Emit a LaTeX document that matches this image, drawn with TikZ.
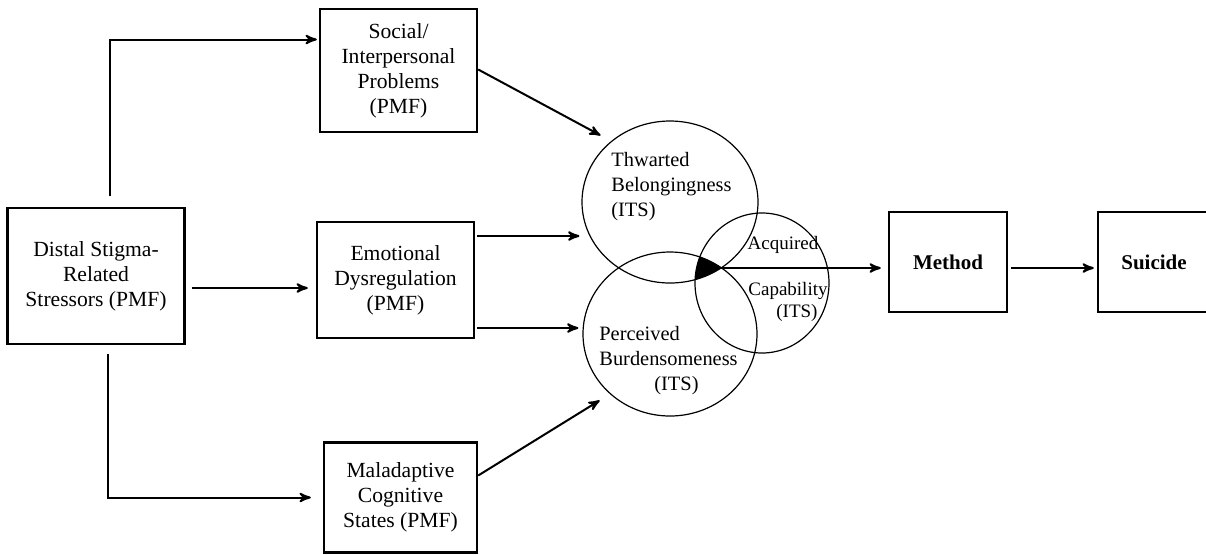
\documentclass[tikz,border=0pt]{standalone}
\usepackage{fontspec}
\setmainfont{Liberation Serif}
\usepackage{tikz}
\usetikzlibrary{arrows,positioning,shapes.geometric}
\tikzset{
  %Define standard arrow tip
  >=stealth',
  %Define style for boxes
  boks/.style={
    rectangle,
    draw=black, line width=1.2pt,
    align=center,
    inner sep=0pt,
    font=\fontsize{10.8}{12.5}\selectfont},
  %Define style for the two end boxes
  sluttboks/.style={
    boks,
    minimum height=50pt,
    font=\fontsize{10.5}{12}\selectfont\bfseries},
  %Define style for the circles
  ring/.style={
    ellipse,
    draw=black, line width=0.6pt,
    inner sep=0pt},
  ringtekst/.style={
    align=left,
    inner sep=0pt,
    font=\fontsize{10.2}{12.5}\selectfont},
  % Define arrow style
  pil/.style={
    ->,
    line width=1pt,
    shorten >=1pt}
}

\begin{document}
\begin{tikzpicture}[x=0.5pt,y=-0.5pt]
      \useasboundingbox (0,0) rectangle (1206,554);
      % boxes on the left
      \node[boks, minimum width=88.5pt, minimum height=68pt] (distal) at (96,276) {Distal Stigma-\\Related\\Stressors (PMF)};
      \node[boks, minimum width=78.5pt, minimum height=61.5pt] (social) at (398.5,70.5) {Social/\\Interpersonal\\Problems\\(PMF)};
      \node[boks, minimum width=78.5pt, minimum height=58pt] (emo) at (395.5,280) {Emotional\\Dysregulation\\(PMF)};
      \node[boks, minimum width=76.5pt, minimum height=55pt] (malad) at (400.5,497.5) {Maladaptive\\Cognitive\\States (PMF)};
      % the three circles
      \node[ring, minimum width=88pt, minimum height=81pt] (tb) at (670,202) {};
      \node[ring, minimum width=87pt, minimum height=82pt] (pb) at (670,334) {};
      \node[ring, minimum width=67pt, minimum height=70pt] (ac) at (762,283) {};
      \begin{scope}
        \clip (tb.center) ellipse [x radius=44pt, y radius=40.5pt];
        \clip (pb.center) ellipse [x radius=43.5pt, y radius=41pt];
        \fill (ac.center) ellipse [x radius=33.5pt, y radius=35pt];
      \end{scope}
      \node[ringtekst, anchor=west] (tbtekst) at (611,187) {Thwarted\\Belongingness\\(ITS)};
      \node[ringtekst, anchor=west] (pbtekst) at (599,361) {Perceived\\Burdensomeness\\\hspace*{27.5pt}(ITS)};
      \node[ringtekst, font=\fontsize{9.5}{11}\selectfont] (actekst) at (783,245) {Acquired};
      \node[ringtekst, anchor=west, font=\fontsize{9.5}{11}\selectfont] (captekst) at (748,302) {Capability\\\hspace*{14pt}(ITS)};
      % boxes on the right
      \node[sluttboks, minimum width=59pt] (method) at (948,262) {Method};
      \node[sluttboks, minimum width=56pt] (suicide) at (1154,262) {Suicide};
      \coordinate (tip) at (721,268);
      \coordinate (opp) at (110,196);
      \coordinate (ned) at (108,354);
      % arrows
      \draw[pil] (opp) |- ([yshift=15.5pt]social.west);
      \draw[pil, shorten >=6pt] (ned) |- (malad.west);
      \draw[pil, shorten <=3pt, shorten >=4pt] ([yshift=-6pt]distal.east) -- ([yshift=-4pt]emo.west);
      \draw[pil, shorten >=6pt] ([yshift=0.5pt]social.east) -- (tb.134);
      \draw[pil, shorten <=1pt] ([yshift=22pt]emo.east) -- ([yshift=22pt]emo.east -| tb.west);
      \draw[pil, shorten <=1pt, shorten >=2pt] ([yshift=-24pt]emo.east) -- ([yshift=-24pt]emo.east -| pb.west);
      \draw[pil, shorten >=6pt] ([yshift=11pt]malad.east) -- (pb.225);
      \draw[pil, shorten >=3.5pt] (tip) -- (tip -| method.west);
      \draw[pil, shorten <=1.5pt, shorten >=1.5pt] (method.east |- tip) -- (tip -| suicide.west);
    \end{tikzpicture}
\end{document}
